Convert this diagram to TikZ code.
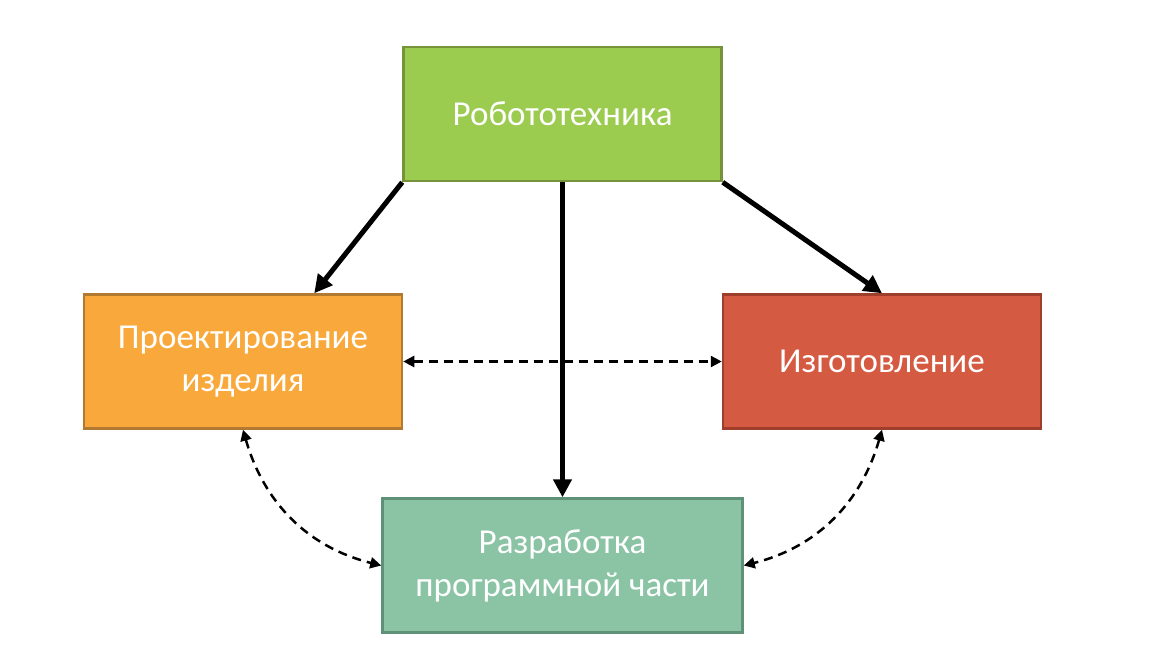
\documentclass[tikz,border=0pt]{standalone}
\usepackage{fontspec}
\setmainfont{Carlito}
\usepackage{xcolor}
\usetikzlibrary{positioning,arrows.meta}
\definecolor{robo}{HTML}{9BCB4F}
\definecolor{roboline}{HTML}{76933C}
\definecolor{design}{HTML}{F9A93B}
\definecolor{designline}{HTML}{B27A30}
\definecolor{make}{HTML}{D45A42}
\definecolor{makeline}{HTML}{A03E2E}
\definecolor{soft}{HTML}{8AC4A5}
\definecolor{softline}{HTML}{5F9078}
\tikzset{
  blk/.style     = {rectangle, line width=2.5pt, align=center, inner sep=0pt,
                    text=white, font=\fontsize{35}{43}\selectfont,
                    minimum width=318pt, minimum height=134pt},
  topblk/.style  = {blk, draw=roboline, fill=robo},
  desblk/.style  = {blk, draw=designline, fill=design},
  makblk/.style  = {blk, draw=makeline, fill=make},
  progblk/.style = {blk, draw=softline, fill=soft, minimum width=360pt},
  flow/.style    = {-{Triangle[length=18pt,width=18pt]}, line width=5pt, draw=black},
  link/.style    = {{Triangle[length=11pt,width=11pt]}-{Triangle[length=11pt,width=11pt]},
                    line width=2.5pt, draw=black, dash pattern=on 9pt off 6pt},
}

\begin{document}
\begin{tikzpicture}[x=1pt,y=1pt]
  \useasboundingbox (0,0) rectangle (1158,-657);
  \node[topblk] (robot) at (562.5,-114) {Робототехника};
  \node[desblk, below left=111pt and -1pt of robot.south west] (design) {Проектирование\\изделия};
  \node[makblk, below right=111pt and -1pt of robot.south east] (make) {Изготовление};
  \node[progblk, below=315pt of robot.south] (prog) {Разработка\\программной части};

  \draw[link] (design.east) -- (make.west);
  \draw[link] (design.south) to[out=-74,in=166] (prog.west);
  \draw[link] (make.south) to[out=-106,in=14] (prog.east);

  \draw[flow] (robot.south west) -- ([xshift=-89pt]design.north east);
  \draw[flow] (robot.south) -- (prog.north);
  \draw[flow] (robot.south east) -- (make.north);
\end{tikzpicture}
\end{document}
